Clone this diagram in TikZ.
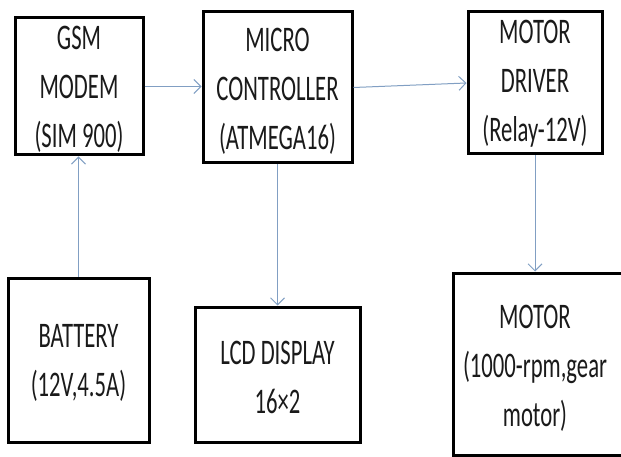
\documentclass[tikz,border=0pt]{standalone}
\usepackage{fontspec}
\setmainfont{Carlito}[FakeStretch=0.63]
\usetikzlibrary{arrows.meta}
\definecolor{arrowblue}{HTML}{819FC3}
\definecolor{txt}{HTML}{1A1A1A}
\begin{document}
\begin{tikzpicture}[x=1pt,y=-1pt,
  blk/.style={draw=black,line width=3pt,fill=white,inner sep=0pt},
  lbl/.style={inner sep=0pt,align=center,text=txt,font=\fontsize{36}{49}\selectfont},
  arr/.style={draw=arrowblue,line width=1pt,-{Straight Barb[length=7pt,width=14pt]}}]
\useasboundingbox[fill=white] (0,0) rectangle (621,457);
\begin{scope}
\clip (0,0) rectangle (621,457);
\node[blk,minimum width=128pt,minimum height=137pt] (gsm) at (79,86.5) {};
\node[blk,minimum width=149pt,minimum height=151pt] (micro) at (277.5,87.5) {};
\node[blk,minimum width=134pt,minimum height=142pt] (driver) at (535,83) {};
\node[blk,minimum width=141pt,minimum height=164pt] (battery) at (78.5,360) {};
\node[blk,minimum width=165pt,minimum height=135pt] (lcd) at (277.5,374.5) {};
\node[blk,minimum width=172pt,minimum height=182pt] (motor) at (539,364) {};
\end{scope}
\node[lbl] (gsmt) at ([yshift=-3pt]gsm.center) {GSM\\MODEM\\(SIM 900)};
\node[lbl] (microt) at ([yshift=-4pt]micro.center) {MICRO\\CONTROLLER\\(ATMEGA16)};
\node[lbl] (drivert) at ([yshift=-1pt]driver.center) {MOTOR\\DRIVER\\(Relay-12V)};
\node[lbl] (batteryt) at ([yshift=-3pt]battery.center) {BATTERY\\(12V,4.5A)};
\node[lbl] (lcdt) at ([yshift=-3pt]lcd.center) {LCD DISPLAY\\16×2};
\node[lbl] (motort) at (535,368) {MOTOR\\(1000-rpm,gear\\motor)};
\draw[arr] (gsm.east) -- (gsm.east -| micro.west);
\draw[arr] (micro.east) -- (driver.west);
\draw[arr] (battery.north) -- (battery.north |- gsm.south);
\draw[arr] (micro.south) -- (lcd.north);
\draw[arr] (driver.south) -- (driver.south |- motor.north);
\end{tikzpicture}
\end{document}
